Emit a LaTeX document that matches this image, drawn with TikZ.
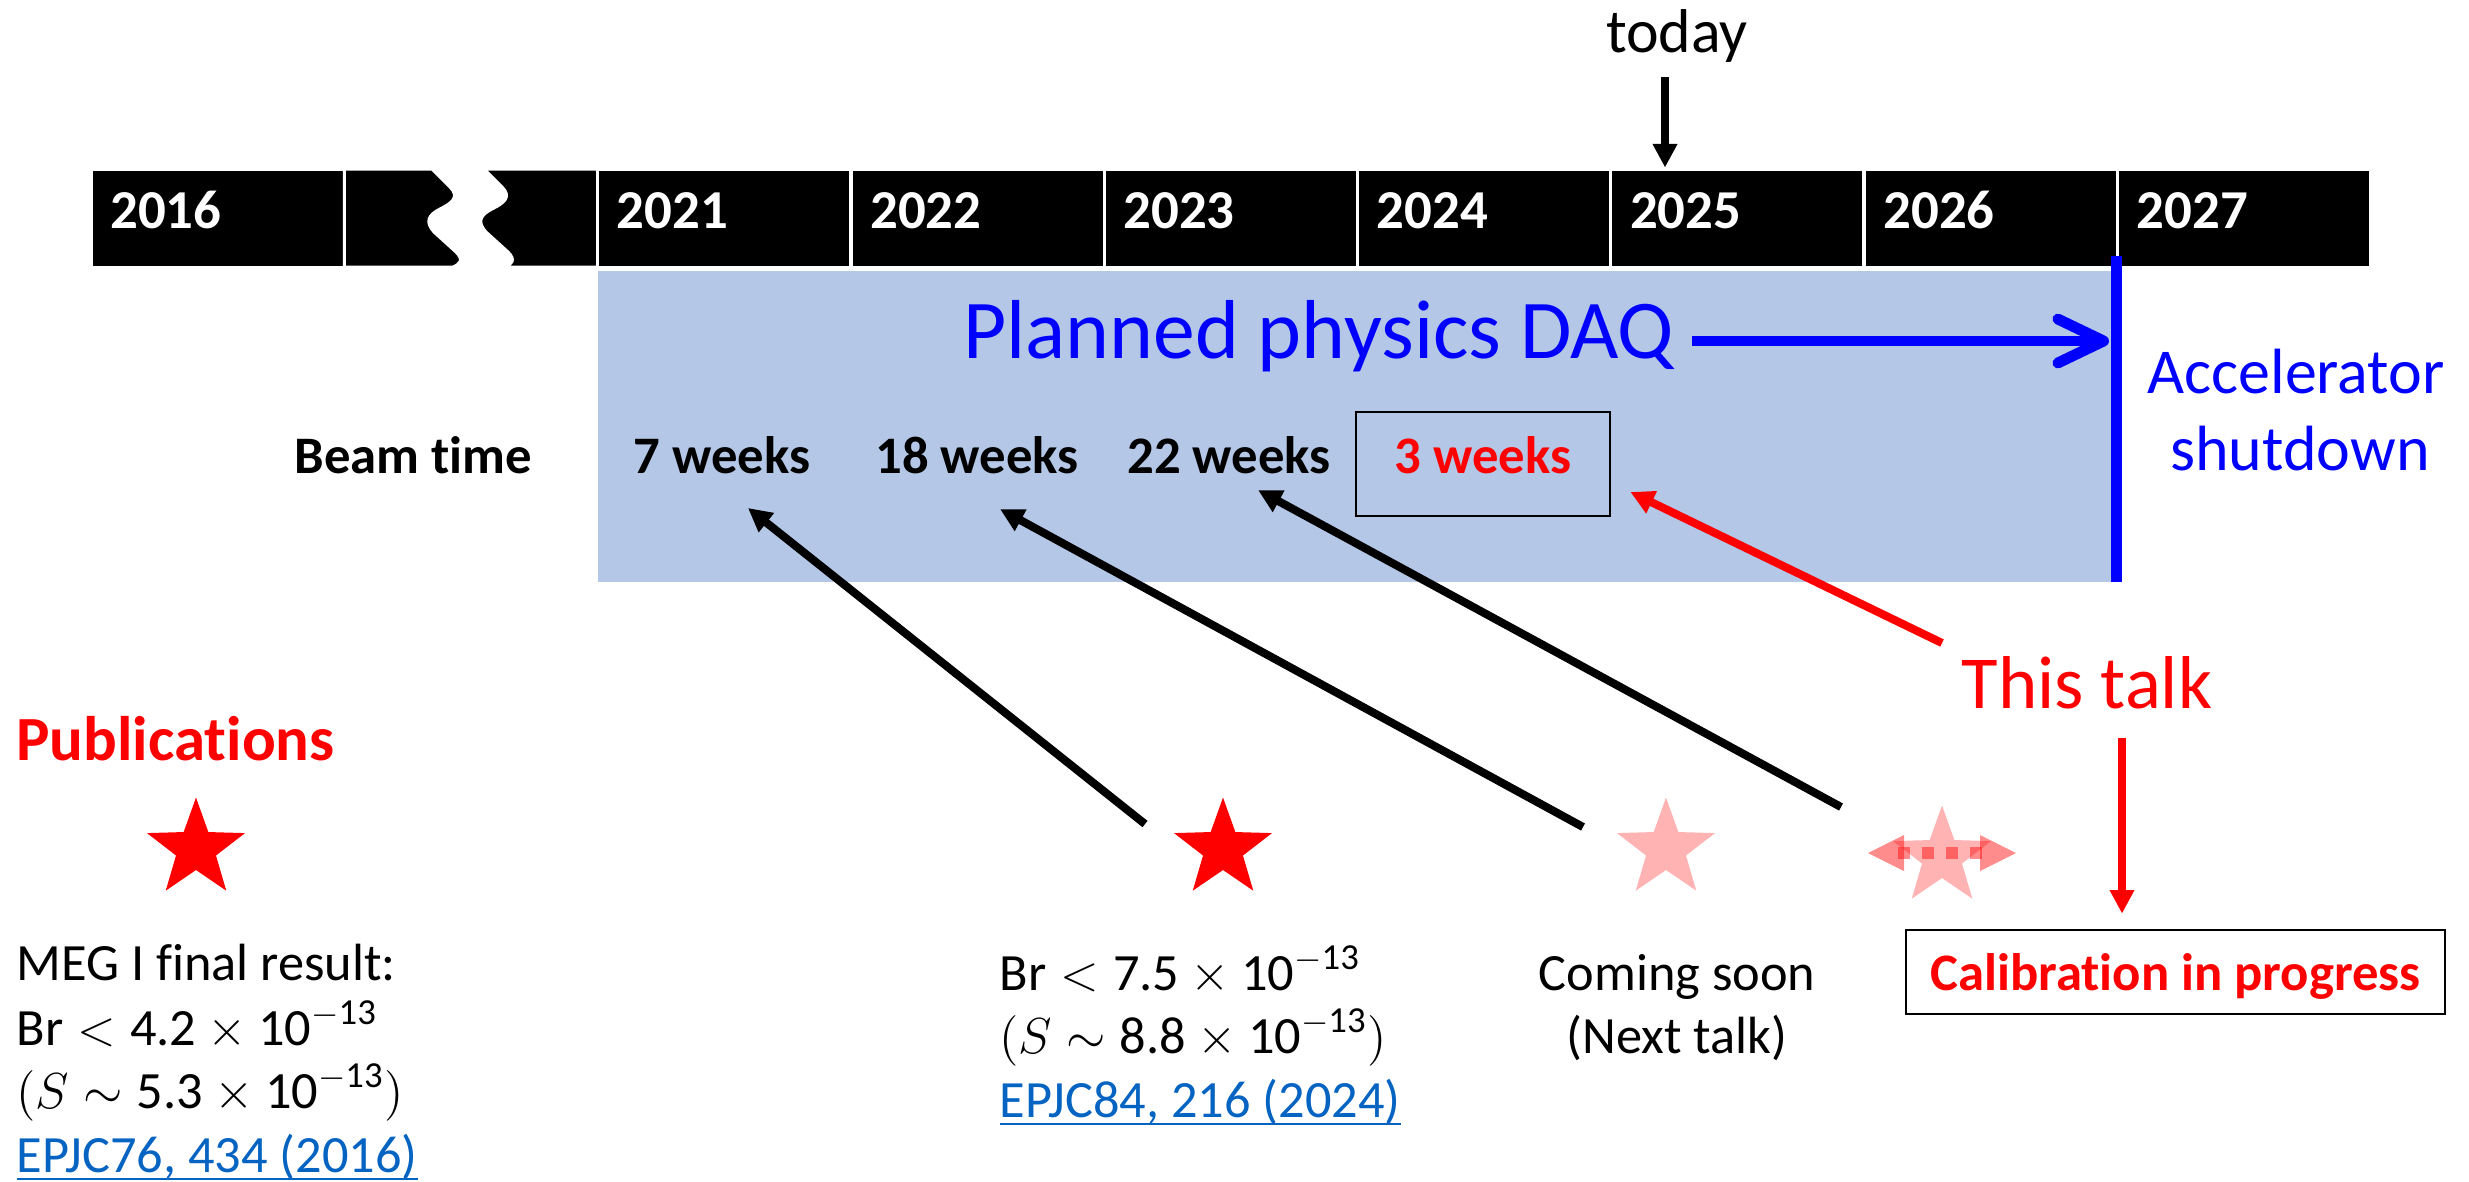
\documentclass[tikz,border=0pt]{standalone}
\usepackage{amsmath}
\usepackage{fontspec}
\setmainfont{Carlito}[Ligatures=NoCommon]
\usetikzlibrary{arrows.meta,calc}
\definecolor{bandblue}{RGB}{180,199,231}
\definecolor{linkblue}{RGB}{5,99,193}
\definecolor{pureblue}{RGB}{0,0,255}
\definecolor{purered}{RGB}{255,0,0}
\definecolor{pinkstar}{RGB}{255,179,179}
\newcommand\brlim[1]{$\text{Br} < \text{#1}\times\text{10}^{\text{$-$13}}$}
\newcommand\sens[1]{$(S \sim \text{#1}\times\text{10}^{\text{$-$13}})$}
% hyperlink-style underline just below the baseline
\newcommand\linkul[1]{\setbox0=\hbox{#1}\rlap{\vrule height -0.11em depth 0.16em width \wd0}\box0}
\begin{document}
\begin{tikzpicture}[x=0.1mm, y=-0.1mm,
  yearcell/.style={rectangle, fill=black, draw=white, line width=0.3mm,
    minimum width=25.3mm, minimum height=9.8mm, inner sep=0},
  yearlbl/.style={anchor=base west, inner sep=0, text=white,
    font=\bfseries\fontsize{15.6pt}{18pt}\selectfont},
  weeks/.style={anchor=base, inner sep=0, font=\bfseries\fontsize{15pt}{18pt}\selectfont},
  body/.style={anchor=base west, inner sep=0, font=\fontsize{14.9pt}{18pt}\selectfont},
  bodyc/.style={body, anchor=base},
  boxframe/.style={rectangle, draw=black, line width=0.8pt, inner sep=0},
  blkarrow/.style={line width=2.3pt, -{Triangle[length=6.7pt,width=6.6pt]}},
  redarrow/.style={blkarrow, draw=purered, fill=purered},
  fivestar/.pic={\fill[pic actions] (-90:51.5) -- (-54:21) -- (-18:51.5) -- (18:21)
    -- (54:51.5) -- (90:21) -- (126:51.5) -- (162:21) -- (198:51.5) -- (234:21) -- cycle;},
]
\useasboundingbox (0,0) rectangle (2469,1181);

% ---- year bar ----
\node[yearcell] (c2016) at (217.65,218) {};
\node[yearlbl] (l2016) at ([shift={(20,10)}]c2016.west) {2016};
% broken segment between 2016 and 2021
\filldraw[fill=black, draw=white, line width=0.3mm]
  (344.3,169) -- (432,169) -- (450,187) .. controls (460,197) and (452,203) .. (440,209)
  .. controls (428,215) and (425,222) .. (434,232) -- (456,252)
  .. controls (464,260) and (460,264) .. (453,267) -- (344.3,267) -- cycle;
\filldraw[fill=black, draw=white, line width=0.3mm]
  (484,169) -- (502,187) .. controls (512,197) and (504,203) .. (492,209)
  .. controls (480,215) and (477,222) .. (486,232) -- (508,252)
  .. controls (516,260) and (512,264) .. (505,267) -- (597.6,267) -- (597.6,169) -- cycle;
\foreach \yr [count=\i from 0] in {2021,2022,2023,2024,2025,2026,2027} {
  \node[yearcell] (c\yr) at ({724.25+253.3*\i},218) {};
  \node[yearlbl] (l\yr) at ([shift={(20,10)}]c\yr.west) {\yr};
}

% ---- today marker ----
\node[anchor=base, inner sep=0, font=\fontsize{17.6pt}{20pt}\selectfont] (today) at (1677,52) {today};
\coordinate (todaytail) at (1665,77);
\draw[blkarrow] (todaytail) -- (todaytail |- c2025.north);

% ---- planned DAQ period ----
\fill[bandblue] (597.6,271) rectangle (2117,582);
\coordinate (shuttop) at (2116.5,256);
\coordinate (shutbot) at (2116.5,582);
\draw[pureblue, line width=1.1mm] (shuttop) -- (shutbot);
\node[anchor=base east, inner sep=0, text=pureblue, font=\fontsize{23.8pt}{28pt}\selectfont]
  (plan) at (1675,358) {Planned physics DAQ};
\coordinate (daqtail) at (1692,341);
\draw[pureblue, line width=3.1pt, -{Straight Barb[length=13pt,width=12.5pt,round]}]
  (daqtail) -- ([xshift=-0.75mm]daqtail -| shuttop);
\node[anchor=base, inner sep=0, text=pureblue, font=\fontsize{18.2pt}{22pt}\selectfont]
  (acc1) at (2296,393) {Accelerator};
\node[anchor=base, inner sep=0, text=pureblue, font=\fontsize{18.2pt}{22pt}\selectfont]
  (acc2) at (2300,470) {shutdown};

% ---- beam time ----
\node[weeks] (beam) at (413.5,473) {Beam time};
\node[weeks] (w7) at (722,473) {7 weeks};
\node[weeks] (w18) at (977,473) {18 weeks};
\node[weeks] (w22) at (1229,473) {22 weeks};
\node[boxframe, minimum width=25.4mm, minimum height=10.4mm] (box3) at (1483,464) {};
\node[weeks, text=purered] (w3) at (1483,473) {3 weeks};

% ---- publications ----
\node[anchor=base, inner sep=0, text=purered, font=\bfseries\fontsize{17.9pt}{21pt}\selectfont]
  (pubs) at (175.5,760) {Publications};
\pic[fill=purered] (s2016) at (196,849) {fivestar};
\pic[fill=purered] (s2024) at (1223,849) {fivestar};
\pic[fill=pinkstar] (snext) at (1666,849) {fivestar};
\pic[fill=pinkstar] (snow) at (1942,857) {fivestar};
% run in progress: double arrow over the last star
\coordinate (dal) at (1868,853);
\coordinate (dar) at (2016,853);
\begin{scope}[purered, opacity=0.45]
  \draw[line width=3.4pt, dash pattern=on 3.4pt off 3.4pt] ([xshift=3mm]dal) -- ([xshift=-3.4mm]dar);
  \fill (dal) -- ++(36,-18) -- ++(0,36) -- cycle;
  \fill (dar) -- ++(-36,-18) -- ++(0,36) -- cycle;
\end{scope}

\node[body] (m1) at (16,980) {MEG I final result:};
\node[body] (m2) at (16,1045) {\brlim{4.2}};
\node[body] (m3) at (16,1108) {\sens{5.3}};
\node[body, text=linkblue] (m4) at (16,1172) {\linkul{EPJC76, 434 (2016)}};

\node[body] (n1) at (999,990) {\brlim{7.5}};
\node[body] (n2) at (999,1053) {\sens{8.8}};
\node[body, text=linkblue] (n3) at (999,1117) {\linkul{EPJC84, 216 (2024)}};

\node[bodyc] (k1) at (1677,990) {Coming soon};
\node[bodyc] (k2) at (1677,1053) {(Next talk)};

% ---- this talk ----
\node[anchor=base, inner sep=0, text=purered, font=\fontsize{21.3pt}{25pt}\selectfont]
  (talk) at (2087,708) {This talk};
\node[boxframe, minimum width=53.9mm, minimum height=8.4mm] (calibbox) at (2175.5,972) {};
\node[weeks, text=purered] (calib) at (2175.5,990) {Calibration in progress};

% ---- pointers from results to beam time ----
\coordinate (t7) at (1145,824);
\coordinate (t18) at (1583,827);
\coordinate (t22) at (1841,807);
\coordinate (ttalk) at (1942,643);
\coordinate (tdown) at (2122,738);
\draw[blkarrow] (t7) -- ([shift={(26,35)}]w7.base);
\draw[blkarrow] (t18) -- ([shift={(23,36)}]w18.base);
\draw[blkarrow] (t22) -- ([shift={(29,17)}]w22.base);
\draw[redarrow] (ttalk) -- ([shift={(19,28)}]box3.east);
\draw[redarrow] (tdown) -- ($(tdown |- calibbox.north)+(0,-15)$);
\end{tikzpicture}
\end{document}
